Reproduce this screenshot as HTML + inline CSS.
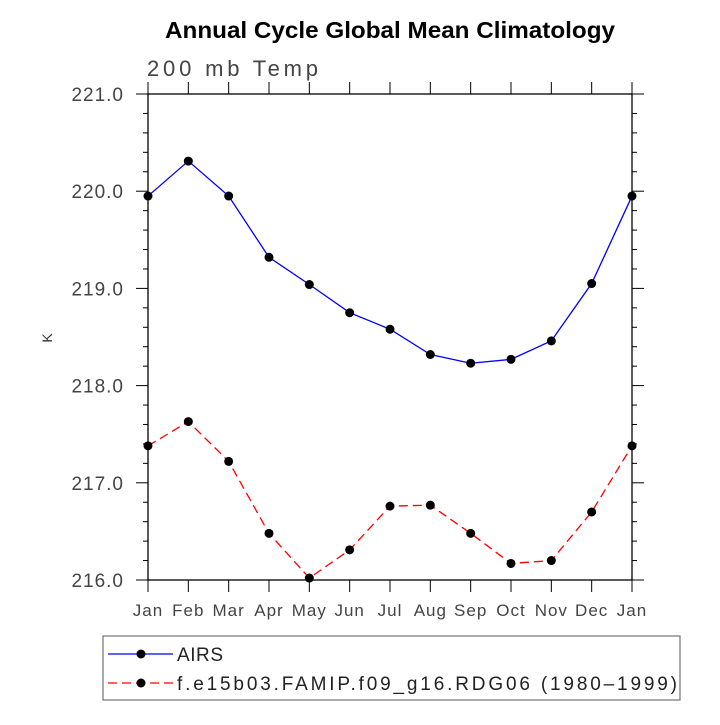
<!DOCTYPE html>
<html><head><meta charset="utf-8"><style>
body{margin:0;background:#fff}
svg text{font-family:"Liberation Sans",sans-serif}
</style></head><body>
<svg id="chart" width="720" height="720" xmlns="http://www.w3.org/2000/svg">
<text x="165" y="38" font-size="23" font-weight="bold" textLength="450" lengthAdjust="spacingAndGlyphs">Annual Cycle Global Mean Climatology</text>
<text x="147" y="76" font-size="22" fill="#444" textLength="171" lengthAdjust="spacing">200 mb Temp</text>
<text x="52" y="338" font-size="14" fill="#333" text-anchor="middle" transform="rotate(-90 52 338)">K</text>
<g id="axes"></g>
<g id="series"></g>
<rect x="103" y="636" width="577" height="64" fill="none" stroke="#555" stroke-width="1"/>
<g>
<line x1="108" y1="654" x2="173" y2="654" stroke="#0000ff" stroke-width="1.3"/>
<circle cx="141" cy="654" r="4.5" fill="#000"/>
<text x="177" y="661" font-size="19" fill="#222" textLength="46" lengthAdjust="spacing">AIRS</text>
</g>
<g>
<line x1="108" y1="683" x2="173" y2="683" stroke="#ff0000" stroke-width="1.3" stroke-dasharray="9,5"/>
<circle cx="141" cy="683" r="4.5" fill="#000"/>
<text x="177" y="690" font-size="19" fill="#222" textLength="500" lengthAdjust="spacing">f.e15b03.FAMIP.f09_g16.RDG06 (1980–1999)</text>
</g>
</svg>
<script>
const months=["Jan","Feb","Mar","Apr","May","Jun","Jul","Aug","Sep","Oct","Nov","Dec","Jan"];
const airs=[219.95,220.31,219.95,219.32,219.04,218.75,218.58,218.32,218.23,218.27,218.46,219.05,219.95];
const model=[217.38,217.63,217.22,216.48,216.02,216.31,216.76,216.77,216.48,216.17,216.20,216.70,217.38];
const yTicks=["216.0","217.0","218.0","219.0","220.0","221.0"];
const X0=148,X1=632,Y0=580,Y1=94,YMIN=216,YMAX=221;
const xs=i=>X0+(X1-X0)*i/(months.length-1);
const ys=v=>Y0-(Y0-Y1)*(v-YMIN)/(YMAX-YMIN);
const NS="http://www.w3.org/2000/svg";
const ax=document.getElementById('axes'),sg=document.getElementById('series');
function mk(tag,attrs,parent){const e=document.createElementNS(NS,tag);for(const k in attrs)e.setAttribute(k,attrs[k]);parent.appendChild(e);return e;}
const frame=mk('rect',{x:X0,y:Y1,width:X1-X0,height:Y0-Y1,fill:'none',stroke:'#000','stroke-width':1.3},ax);


months.forEach((m,i)=>{const x=xs(i);
 mk('line',{x1:x,y1:Y0,x2:x,y2:Y0+12,stroke:'#000'},ax);
 mk('line',{x1:x,y1:Y1,x2:x,y2:Y1-12,stroke:'#000'},ax);
 const t=mk('text',{x:x,y:Y0+36,'text-anchor':'middle','font-size':17,fill:'#444','letter-spacing':1},ax);t.textContent=m;
 
 
});
for(let v=YMIN;v<=YMAX+1e-9;v+=0.2){const y=ys(v);const major=Math.abs(v-Math.round(v))<1e-6;const L=major?12:5;
 mk('line',{x1:X0,y1:y,x2:X0-L,y2:y,stroke:'#000'},ax);
 mk('line',{x1:X1,y1:y,x2:X1+L,y2:y,stroke:'#000'},ax);}
yTicks.forEach(s=>{const y=ys(parseFloat(s));const t=mk('text',{x:124,y:y+7,'text-anchor':'end','font-size':19,fill:'#444','letter-spacing':1},ax);t.textContent=s;
 
 });
function series(vals,color,dash,name){
 const p=mk('polyline',{points:vals.map((v,i)=>xs(i)+','+ys(v)).join(' '),fill:'none',stroke:color,'stroke-width':1.3,'stroke-dasharray':dash},sg);
 
 
 vals.forEach((v,i)=>{const c=mk('circle',{cx:xs(i),cy:ys(v),r:4.5,fill:'#000'},sg);
  
  });
}
series(airs,'#0000ff','none','airs');
series(model,'#ff0000','9,5','model');
</script>
</body></html>
